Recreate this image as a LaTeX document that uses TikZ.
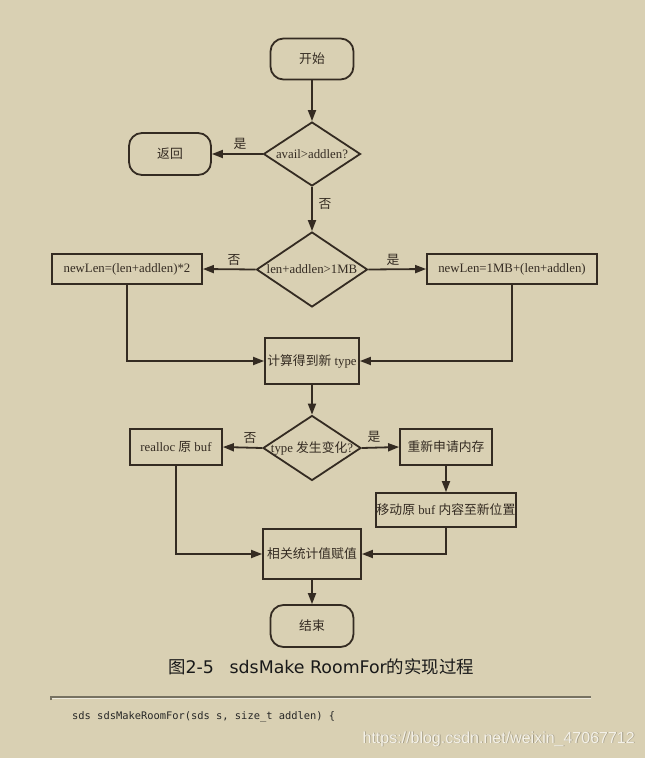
\documentclass[tikz,border=0pt]{standalone}
\usepackage{fontspec}
\setmainfont{Liberation Serif}
\newfontfamily\cjk{Noto Sans CJK SC}
\newfontfamily\capfont{DejaVu Sans}
\newfontfamily\codefont{DejaVu Sans Mono}
\newfontfamily\wmfont{Liberation Sans}
\usetikzlibrary{shapes.geometric,arrows.meta}
\definecolor{bg}{HTML}{D9D0B3}
\definecolor{ink}{HTML}{342B22}
\begin{document}
\begin{tikzpicture}[x=1pt,y=-1pt,
 every node/.style={font=\fontsize{12.8}{14}\selectfont, text=ink},
 box/.style={draw=ink, line width=1.8pt, rectangle, inner sep=0pt},
 term/.style={draw=ink, line width=1.8pt, rectangle, rounded corners=13pt, inner sep=0pt, minimum width=83pt, minimum height=41pt},
 dia/.style={draw=ink, line width=1.8pt, diamond, inner sep=0pt},
 conn/.style={draw=ink, line width=1.8pt, -{Triangle[length=11pt,width=8pt]}},
 lab/.style={font=\cjk\fontsize{12.8}{14}\selectfont}
]
\fill[bg] (0,0) rectangle (645,758);
\useasboundingbox (0,0) rectangle (645,758);

\node[term] (start) at (312,59) {\cjk 开始};
\node[dia, minimum width=97pt, minimum height=64pt] (d1) at (312,154) {};
\node (d1t) at (d1) {avail>addlen?};
\node[term, minimum width=82pt, minimum height=42pt] (ret) at (170,154) {\cjk 返回};

\node[dia, minimum width=111pt, minimum height=75pt] (d2) at (312,269.5) {};
\node (d2t) at (d2) {len+addlen>1MB};
\node[box, minimum width=150pt, minimum height=30pt] (lbox) at (127,269) {newLen=(len+addlen)*2};
\node[box, minimum width=170pt, minimum height=30pt] (rbox) at (512,269) {newLen=1MB+(len+addlen)};

\node[box, minimum width=94pt, minimum height=46pt] (calc) at (312,361) {{\cjk 计算得到新} type};

\node[dia, minimum width=98pt, minimum height=65pt] (d3) at (312,448) {};
\node (d3t) at (d3) {type {\cjk 发生变化}?};
\node[box, minimum width=92pt, minimum height=36pt] (realloc) at (176,447) {realloc {\cjk 原} buf};
\node[box, minimum width=92pt, minimum height=36pt] (renew) at (446,447) {\cjk 重新申请内存};
\node[box, minimum width=140pt, minimum height=34pt] (move) at (446,510) {{\cjk 移动原} buf {\cjk 内容至新位置}};

\node[box, minimum width=98pt, minimum height=50pt] (stat) at (312,554) {\cjk 相关统计值赋值};
\node[term, minimum height=42pt] (endn) at (312,626) {\cjk 结束};

\draw[conn] (start.south) -- (d1.north);
\draw[conn] (d1.west) -- (ret.east);
\node[lab] (l1) at (240,144) {是};
\draw[conn] (d1.south) -- (d2.north);
\node[lab] (l2) at (325,204) {否};
\draw[conn] (d2.west) -- (lbox.east);
\node[lab] (l3) at (234,260) {否};
\draw[conn] (d2.east) -- (rbox.west);
\node[lab] (l4) at (393,260) {是};
\draw[conn] (lbox.south) |- (calc.west);
\draw[conn] (rbox.south) |- (calc.east);
\draw[conn] (calc.south) -- (d3.north);
\draw[conn] (d3.west) -- (realloc.east);
\node[lab] (l5) at (250,438) {否};
\draw[conn] (d3.east) -- (renew.west);
\node[lab] (l6) at (374,437) {是};
\draw[conn] (renew.south) -- (move.north);
\draw[conn] (realloc.south) |- (stat.west);
\draw[conn] (move.south) |- (stat.east);
\draw[conn] (stat.south) -- (endn.north);

\node[font=\capfont\fontsize{17.4}{19}\selectfont, text=black!90, inner sep=0pt] (cap) at (321,667) {{\cjk 图}2-5\hspace{0.9em}sdsMake RoomFor{\cjk 的实现过程}};

\draw[color=black!45!bg, line width=1.2pt] (51,700) -- (51,697) -- (591,697);
\draw[color=white!55!bg, line width=0.8pt] (52,698.6) -- (591,698.6);

\node[anchor=west, inner sep=0pt, font=\codefont\fontsize{10.4}{12}\selectfont, text=black!85] (code) at (72,717) {sds sdsMakeRoomFor(sds s, size\_t addlen) \{};

\node[anchor=east, inner sep=0pt, font=\wmfont\fontsize{16}{18}\selectfont, text=black!25!bg] (wms) at (635.8,739.8) {https://blog.csdn.net/weixin\_47067712};
\node[anchor=east, inner sep=0pt, font=\wmfont\fontsize{16}{18}\selectfont, text=white!70!bg] (wm) at (635,739) {https://blog.csdn.net/weixin\_47067712};
\end{tikzpicture}
\end{document}
